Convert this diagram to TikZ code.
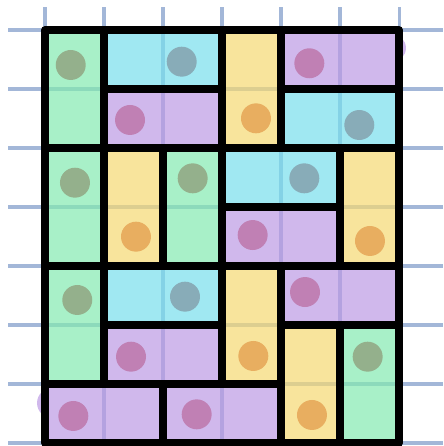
\documentclass[tikz,border=0pt]{standalone}
\usepackage{xcolor}
\usepackage{tikz}

\definecolor{gridblue}{HTML}{A3B7D8}
\definecolor{tilegreen}{RGB}{131,234,176}
\definecolor{tilecyan}{RGB}{119,222,236}
\definecolor{tilepurple}{RGB}{188,154,228}
\definecolor{tileyellow}{RGB}{245,217,114}
\definecolor{dotgreen}{HTML}{94B08C}
\definecolor{dotcyan}{HTML}{88ACB8}
\definecolor{dotpurple}{HTML}{C080B4}
\definecolor{dotyellow}{HTML}{E8AE60}
\definecolor{blobpurple}{HTML}{D0B8EC}

\begin{document}
\begin{tikzpicture}
\tikzset{gridline/.style={line width=1.45pt,color=gridblue},
         tileedge/.style={line width=3.6pt,color=black,line join=round},
         tilefill/.style={fill opacity=0.7}}
\def\r{0.254}
% tiles: x/y/width/height/colour
\def\tiles{0/5/1/2/tilegreen, 1/6/2/1/tilecyan, 3/5/1/2/tileyellow, 4/6/2/1/tilepurple,
  1/5/2/1/tilepurple, 4/5/2/1/tilecyan, 0/3/1/2/tilegreen, 1/3/1/2/tileyellow,
  2/3/1/2/tilegreen, 3/4/2/1/tilecyan, 3/3/2/1/tilepurple, 5/3/1/2/tileyellow,
  0/1/1/2/tilegreen, 1/2/2/1/tilecyan, 3/1/1/2/tileyellow, 4/2/2/1/tilepurple,
  1/1/2/1/tilepurple, 4/0/1/2/tileyellow, 5/0/1/2/tilegreen, 0/0/2/1/tilepurple,
  2/0/2/1/tilepurple}
\useasboundingbox (-0.7627,-0.0508) rectangle (6.7458,7.5085);
% Grid
\foreach \y in {0,...,7} \draw[gridline] (-0.627,\y) -- (6.75,\y);
\foreach \x in {0,...,6} \draw[gridline] (\x,-0.06) -- (\x,7.39);
% Tile fills
\foreach \x/\y/\w/\h/\c in \tiles
  \fill[tilefill,fill=\c] (\x,\y) rectangle ++(\w,\h);
% stray marks just outside the frame
\begin{scope}
\clip (-1,-1) rectangle (0,8);
\fill[blobpurple] (0.119,0.678) circle(\r);
\end{scope}
\begin{scope}
\clip (6,-1) rectangle (7,8);
\fill[blobpurple] (5.881,6.695) circle(0.237);
\end{scope}
% Dots
\foreach \x/\y/\c in {0.436/6.407/dotgreen, 2.317/6.463/dotcyan, 3.576/5.503/dotyellow,
  4.480/6.436/dotpurple, 1.441/5.475/dotpurple, 5.327/5.390/dotcyan,
  0.508/4.412/dotgreen, 1.542/3.497/dotyellow, 2.503/4.486/dotgreen,
  4.395/4.486/dotcyan, 3.520/3.525/dotpurple, 5.508/3.424/dotyellow,
  0.547/2.424/dotgreen, 2.373/2.480/dotcyan, 3.531/1.475/dotyellow,
  4.407/2.559/dotpurple, 1.458/1.463/dotpurple, 4.525/0.475/dotyellow,
  5.469/1.463/dotgreen, 0.480/0.458/dotpurple, 2.571/0.486/dotpurple}
  \fill[fill=\c] (\x,\y) circle(\r);
% Tile edges
\foreach \x/\y/\w/\h/\c in \tiles
  \draw[tileedge] (\x,\y) rectangle ++(\w,\h);
\end{tikzpicture}
\end{document}
